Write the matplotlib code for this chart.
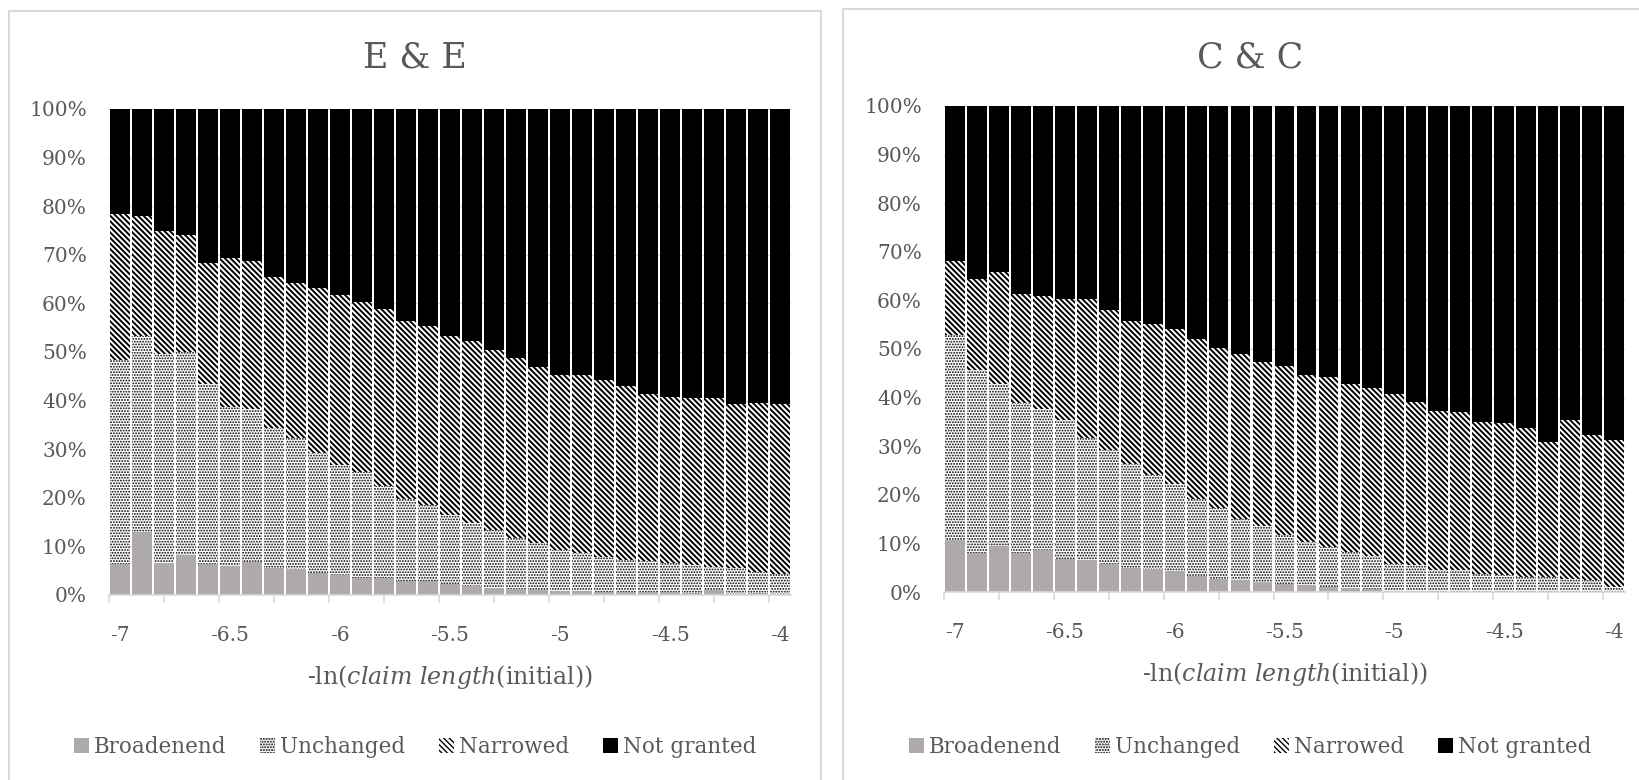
import numpy as np
import matplotlib
matplotlib.use("Agg")
import matplotlib.pyplot as plt
from matplotlib.patches import Patch, Rectangle

# bins of -ln(claim length(initial)), -7.0 ... -4.0
bins = [round(-7.0 + 0.1 * i, 1) for i in range(31)]
series_names = ["Broadenend", "Unchanged", "Narrowed", "Not granted"]

# E & E shares (%)
ee_broad = [6.3, 12.9, 6.5, 8.3, 6.4, 5.9, 6.8, 5.5, 5.4, 4.5, 4.1, 3.6, 3.4, 2.9, 2.8, 2.2,
            1.9, 1.5, 1.2, 1.0, 0.8, 0.8, 0.7, 0.7, 0.6, 0.6, 0.5, 1.0, 0.3, 0.5, 0.2]
ee_unch = [42.0, 40.4, 43.1, 41.7, 37.1, 32.8, 31.4, 28.8, 26.9, 24.7, 22.7, 21.7, 19.0, 16.9, 15.8, 14.3,
           12.9, 11.9, 10.5, 9.7, 8.5, 7.8, 7.2, 6.5, 6.3, 5.9, 5.7, 4.8, 5.2, 4.3, 4.1]
ee_narr = [30.0, 24.6, 25.3, 24.1, 24.8, 30.6, 30.6, 31.2, 32.0, 33.9, 35.0, 34.9, 36.4, 36.6, 36.8, 36.8,
           37.4, 37.0, 37.0, 36.2, 36.0, 36.6, 36.3, 35.8, 34.5, 34.2, 34.3, 34.7, 33.9, 34.8, 34.9]
ee_notg = [21.7, 22.1, 25.1, 25.9, 31.7, 30.7, 31.2, 34.5, 35.7, 36.9, 38.2, 39.8, 41.2, 43.6, 44.6, 46.7,
           47.8, 49.6, 51.3, 53.1, 54.7, 54.8, 55.8, 57.0, 58.6, 59.3, 59.5, 59.5, 60.6, 60.4, 60.8]

# C & C shares (%)
cc_broad = [10.8, 8.0, 9.5, 8.0, 8.7, 6.7, 6.5, 5.7, 4.9, 4.7, 4.3, 3.2, 2.7, 2.5, 2.1, 1.7,
            1.4, 1.0, 0.9, 0.7, 0.3, 0.3, 0.1, 0.1, 0.1, 0.1, 0.1, 0.1, 0.1, 0.1, 0.1]
cc_unch = [42.0, 37.6, 33.4, 30.8, 29.0, 28.6, 25.2, 23.5, 21.4, 19.3, 18.0, 16.0, 14.5, 12.6, 11.4, 10.0,
           8.9, 8.3, 7.3, 6.8, 5.5, 5.2, 4.4, 4.4, 3.7, 3.3, 3.0, 2.9, 2.5, 2.3, 0.9]
cc_narr = [15.3, 18.8, 22.9, 22.5, 23.3, 24.9, 28.6, 28.9, 29.5, 31.1, 31.9, 32.8, 33.0, 33.8, 33.9, 34.8,
           34.3, 35.0, 34.7, 34.5, 34.9, 33.6, 32.7, 32.6, 31.1, 31.3, 30.7, 27.9, 32.7, 30.0, 30.2]
cc_notg = [31.9, 35.6, 34.2, 38.7, 39.0, 39.8, 39.7, 41.9, 44.2, 44.9, 45.8, 48.0, 49.8, 51.1, 52.6, 53.5,
           55.4, 55.7, 57.1, 58.0, 59.3, 60.9, 62.8, 62.9, 65.1, 65.3, 66.2, 69.1, 64.7, 67.6, 68.8]

TXT = "#595959"
GRID = "#d9d9d9"

# (facecolor, hatch, hatch linewidth)
styles = [
    ("#adaaa9", None, 1.0),
    ("white", "......", 0.9),
    ("white", "\\" * 6, 1.4),
    ("black", None, 1.0),
]

plt.rcParams["font.family"] = "DejaVu Serif"
plt.rcParams["mathtext.fontset"] = "dejavuserif"
fig = plt.figure(figsize=(16.39, 7.80), dpi=100)

# chart area borders
fig.patches.append(Rectangle((9 / 1639, -0.1), 812 / 1639, 1.1 - 11 / 780, transform=fig.transFigure,
                             fill=False, edgecolor=GRID, lw=1.5))
fig.patches.append(Rectangle((843 / 1639, -0.1), 0.6, 1.1 - 9 / 780, transform=fig.transFigure,
                             fill=False, edgecolor=GRID, lw=1.5))


def set_hlw(artist, lw):
    if hasattr(artist, "set_hatch_linewidth"):
        artist.set_hatch_linewidth(lw)


def draw(ax, title, data, cx):
    idx = np.arange(len(bins))
    bottom = np.zeros(len(bins))
    handles = []
    for name, vals, (fc, hatch, hlw) in zip(series_names, data, styles):
        vals = np.array(vals)
        with plt.rc_context({"hatch.linewidth": hlw}):
            if hatch:
                bars = ax.bar(idx, vals, bottom=bottom, width=0.9, color="white", edgecolor="black",
                              hatch=hatch, linewidth=0, zorder=2)
                h = Patch(facecolor="white", edgecolor="black", hatch=hatch, linewidth=0)
                for b in bars:
                    set_hlw(b, hlw)
                set_hlw(h, hlw)
            else:
                ax.bar(idx, vals, bottom=bottom, width=0.9, color=fc, linewidth=0, zorder=2)
                h = Patch(facecolor=fc, linewidth=0)
        handles.append(h)
        bottom += vals
    ax.set_xlim(-0.5, len(bins) - 0.5)
    ax.set_ylim(0, 100)
    ax.set_yticks(np.arange(0, 101, 10))
    ax.set_yticklabels([f"{v}%" for v in range(0, 101, 10)])
    ax.yaxis.grid(True, color=GRID, lw=1.0, zorder=0)
    ax.set_axisbelow(True)
    # labels every 5th bin, tick marks every 2.5 bins
    ax.set_xticks(idx[::5])
    ax.set_xticklabels([f"{v:g}" for v in bins[::5]])
    ax.set_xticks(np.arange(-0.5, len(bins), 2.5), minor=True)
    ax.tick_params(axis="x", which="major", length=0, labelsize=14.5, labelcolor=TXT, pad=22)
    ax.tick_params(axis="x", which="minor", direction="out", length=6, width=1.2, color=GRID)
    ax.tick_params(axis="y", length=0, labelsize=14.5, labelcolor=TXT, pad=16)
    for s in ["top", "right", "left"]:
        ax.spines[s].set_visible(False)
    ax.spines["bottom"].set_color(GRID)
    ax.spines["bottom"].set_linewidth(1.2)
    fig.text(cx, 1 - 58 / 780, title, ha="center", va="center", fontsize=25, color=TXT)
    ax.set_xlabel(r"-ln($\it{claim\ length}$(initial))", fontsize=17, color=TXT, labelpad=13)
    ax.legend(handles, series_names, loc="center", bbox_to_anchor=(cx, 1 - 747 / 780),
              bbox_transform=fig.transFigure, ncol=4,
              frameon=False, fontsize=15.5, labelcolor=TXT, handlelength=0.7, handleheight=0.7,
              handletextpad=0.2, columnspacing=1.6)


ax1 = fig.add_axes([109 / 1639, 1 - 595 / 780, 682 / 1639, 486 / 780])
ax2 = fig.add_axes([944 / 1639, 1 - 592 / 780, 681 / 1639, 486 / 780])
draw(ax1, "E & E", [ee_broad, ee_unch, ee_narr, ee_notg], 415 / 1639)
draw(ax2, "C & C", [cc_broad, cc_unch, cc_narr, cc_notg], 1250 / 1639)

fig.savefig("out.png", dpi=100)
